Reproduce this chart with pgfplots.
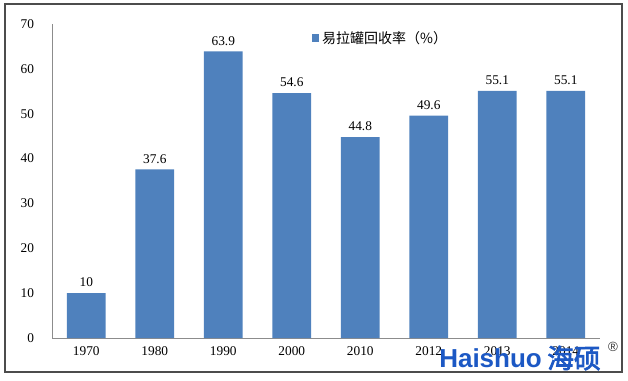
\documentclass[border=0pt]{standalone}
\usepackage{pgfplots}
\pgfplotsset{compat=1.18}
\usepackage{fontspec}
\setmainfont{Liberation Serif}
\newfontfamily\cjk{Noto Sans CJK SC}
\newfontfamily\cjkb[FakeBold=3]{Noto Sans CJK SC}
\newfontfamily\wsans{Liberation Sans}
\definecolor{barblue}{RGB}{79,129,189}
\definecolor{wmblue}{RGB}{28,88,196}
\begin{document}
\begin{tikzpicture}[x=0.75pt,y=0.75pt]
\path[use as bounding box] (0,0) rectangle (628,380);
\draw[black!70, line width=0.9pt] (5,8) rectangle (622,376);
\begin{axis}[
  at={(39pt,31.5pt)}, anchor=south west,
  scale only axis, width=411pt, height=235.5pt,
  ymin=0, ymax=70, ytick={0,10,...,70},
  xmin=-0.5, xmax=7.5,
  xtick=data,
  xticklabels={1970,1980,1990,2000,2010,2012,2013,2014},
  axis x line*=bottom, axis y line*=left,
  axis line style={draw=black!45, line width=0.6pt},
  major tick length=0pt,
  ybar, bar width=29pt,
  tick label style={font=\fontsize{10}{12}\selectfont},
  /pgf/number format/assume math mode=true,
  yticklabel style={xshift=-10pt},
  xticklabel style={yshift=-3pt},
  nodes near coords,
  every node near coord/.append style={font=\fontsize{10}{12}\selectfont, yshift=1pt},
  legend style={draw=none, at={(0.6,0.995)}, anchor=north, font=\cjk\fontsize{10.5}{12}\selectfont},
  legend image code/.code={\fill[barblue] (0cm,-0.1cm) rectangle (0.2cm,0.1cm);},
]
\addplot[fill=barblue, draw=none] coordinates {(0,10) (1,37.6) (2,63.9) (3,54.6) (4,44.8) (5,49.6) (6,55.1) (7,55.1)};
\addlegendentry{易拉罐回收率（\%）}
\end{axis}
\node[anchor=west, text=wmblue, font=\wsans\bfseries\fontsize{19.5}{22}\selectfont, inner sep=0pt] at (439,22) {Haishuo};
\node[anchor=west, text=wmblue, font=\cjkb\fontsize{20}{22}\selectfont, inner sep=0pt] at (547,22) {海硕};
\node[text=black!80, font=\wsans\fontsize{10}{12}\selectfont] at (613,33) {®};
\end{tikzpicture}
\end{document}
